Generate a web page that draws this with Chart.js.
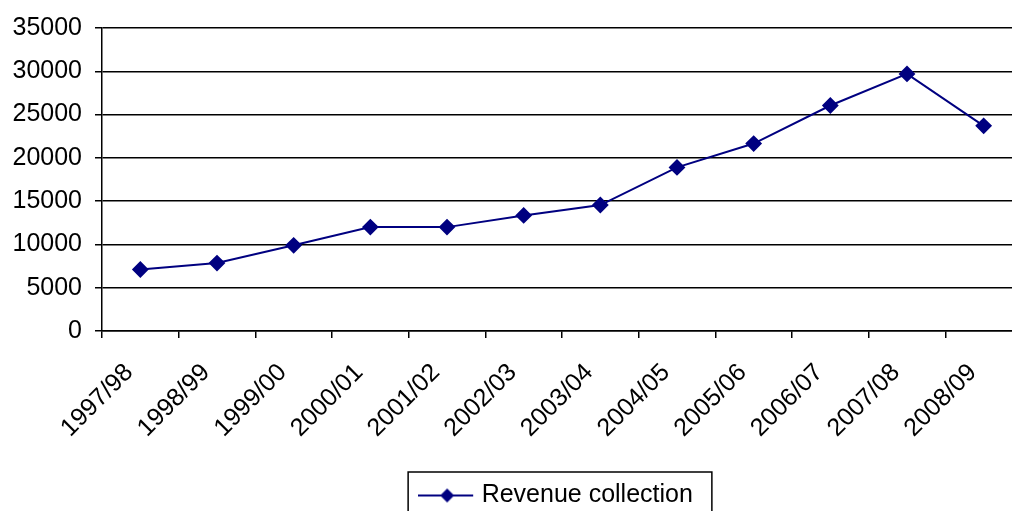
<!DOCTYPE html>
<html>
<head>
<meta charset="utf-8">
<script src="https://cdn.jsdelivr.net/npm/chart.js@4"></script>
<style>
  html, body { margin: 0; padding: 0; background: #fff; overflow: hidden; }
  #chart { position: absolute; left: 0; top: 0; }
</style>
</head>
<body>
<canvas id="chart" width="1031" height="518"></canvas>
<script>
// Revenue collection per financial year
const years = ['1997/98', '1998/99', '1999/00', '2000/01', '2001/02', '2002/03',
  '2003/04', '2004/05', '2005/06', '2006/07', '2007/08', '2008/09'];
const revenue = [7100, 7850, 9900, 12000, 12000, 13350, 14550, 18900, 21650, 26050, 29700, 23700];
const seriesName = 'Revenue collection';
const yTicks = [0, 5000, 10000, 15000, 20000, 25000, 30000, 35000];

const navy = '#000080';
const font = { family: 'Arial, "Liberation Sans", sans-serif', size: 25 };

// legend symbol: a short line with a diamond on it
function legendSymbol() {
  const c = document.createElement('canvas');
  c.width = 64; c.height = 16;
  const g = c.getContext('2d');
  g.strokeStyle = navy;
  g.lineWidth = 2;
  g.beginPath();
  g.moveTo(0, 8); g.lineTo(55, 8);
  g.stroke();
  g.fillStyle = navy;
  g.beginPath();
  g.moveTo(29, 1); g.lineTo(36, 8); g.lineTo(29, 15); g.lineTo(22, 8);
  g.closePath();
  g.fill();
  return c;
}

// draws the frame round the legend, like the original
const legendFrame = {
  id: 'legendFrame',
  afterDraw(chart) {
    const hb = chart.legend.legendHitBoxes[0];
    if (!hb) return;
    const ctx = chart.ctx;
    ctx.save();
    ctx.strokeStyle = '#000';
    ctx.lineWidth = 1.5;
    ctx.strokeRect(hb.left - 23, hb.top - 11, hb.width + 42, 60);
    ctx.restore();
  }
};

const symbol = legendSymbol();

new Chart(document.getElementById('chart'), {
  type: 'line',
  data: {
    labels: years,
    datasets: [{
      label: seriesName,
      data: revenue,
      borderColor: navy,
      backgroundColor: navy,
      borderWidth: 2,
      tension: 0,
      pointStyle: 'rectRot',
      pointRadius: 7,
      pointHoverRadius: 7,
      pointBackgroundColor: navy,
      pointBorderColor: navy
    }]
  },
  options: {
    responsive: false,
    animation: false,
    devicePixelRatio: 1,
    layout: { padding: { top: 28, left: 0, right: 0, bottom: 0 } },
    plugins: {
      tooltip: { enabled: false },
      legend: {
        position: 'bottom',
        fullSize: false,
        labels: {
          font: font,
          color: '#000',
          padding: 10,
          usePointStyle: true,
          pointStyleWidth: 38,
          generateLabels: (chart) => chart.data.datasets.map((ds, i) => ({
            text: ds.label,
            fillStyle: navy,
            strokeStyle: navy,
            pointStyle: symbol,
            fontColor: '#000',
            datasetIndex: i
          }))
        }
      }
    },
    scales: {
      x: {
        offset: true,
        grid: {
          offset: true,
          drawOnChartArea: false,
          drawTicks: true,
          tickLength: 7,
          color: '#000',
          lineWidth: 1.5
        },
        border: { color: '#000', width: 1.5 },
        ticks: {
          font: font,
          color: '#000',
          minRotation: 45,
          maxRotation: 45,
          autoSkip: false,
          padding: 20,
          labelOffset: -11
        },
        afterFit(scale) {
          scale.height = 142;
          scale.paddingLeft = 0;
          scale.paddingRight = 0;
        }
      },
      y: {
        min: 0,
        max: 35000,
        afterBuildTicks(scale) { scale.ticks = yTicks.map(v => ({ value: v })); },
        grid: {
          color: '#000',
          lineWidth: 1.5,
          drawTicks: true,
          tickLength: 7
        },
        border: { color: '#000', width: 1.5 },
        ticks: {
          font: font,
          color: '#000',
          padding: 13,
          callback: (v) => String(v)
        },
        afterFit(scale) { scale.width = 102; }
      }
    }
  },
  plugins: [legendFrame]
});
</script>
</body>
</html>
